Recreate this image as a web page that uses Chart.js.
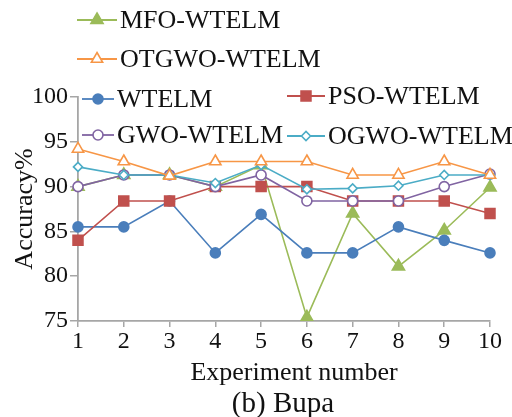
<!DOCTYPE html>
<html>
<head>
<meta charset="utf-8">
<script src="https://cdn.jsdelivr.net/npm/chart.js@4/dist/chart.umd.min.js"></script>
<style>
  html, body { margin:0; padding:0; background:#fff; }
  #wrap { width:512px; height:417px; position:relative; }
</style>
</head>
<body>
<div id="wrap"><canvas id="c" width="512" height="417"></canvas></div>
<script>
// experiment index on the x axis
const experiments = ['1','2','3','4','5','6','7','8','9','10'];
const yTicks = [75, 80, 85, 90, 95, 100];

// accuracy (%) per method
const wtelm = [85.5, 85.5, 88.4, 82.6, 86.9, 82.6, 82.6, 85.5, 84.0, 82.6];
const psoWtelm = [84.0, 88.4, 88.4, 90.0, 90.0, 90.0, 88.4, 88.4, 88.4, 87.0];
const gwoWtelm = [90.0, 91.3, 91.3, 90.0, 91.3, 88.4, 88.4, 88.4, 90.0, 91.4];
const ogwoWtelm = [92.2, 91.3, 91.3, 90.4, 92.4, 89.7, 89.8, 90.1, 91.3, 91.3];
const mfoWtelm = [90.0, 91.3, 91.3, 90.0, 92.4, 75.4, 87.0, 81.1, 85.1, 89.9];
const otgwoWtelm = [94.2, 92.8, 91.2, 92.8, 92.8, 92.8, 91.3, 91.3, 92.8, 91.3];

const xTitle = 'Experiment number';
const caption = '(b) Bupa';
const FONT = "'Liberation Serif', 'Times New Roman', serif";

function series(label, data, color, style, radius, hollow, order) {
  return {
    label, data, order,
    borderColor: color,
    backgroundColor: hollow ? '#fff' : color,
    borderWidth: 1.6,
    pointStyle: style,
    pointRadius: radius,
    pointHoverRadius: radius,
    pointBorderColor: color,
    pointBackgroundColor: hollow ? '#fff' : color,
    pointBorderWidth: 1.6,
    tension: 0,
    fill: false
  };
}

const datasets = [
  series('WTELM', wtelm, '#4a7ebb', 'circle', 5, false, 5),
  series('PSO-WTELM', psoWtelm, '#c0504d', 'rect', 7, false, 4),
  series('GWO-WTELM', gwoWtelm, '#8064a2', 'circle', 5, true, 3),
  series('OGWO-WTELM', ogwoWtelm, '#4bacc6', 'rectRot', 4.5, true, 1),
  series('MFO-WTELM', mfoWtelm, '#9bbb59', 'triangle', 7, false, 6),
  series('OTGWO-WTELM', otgwoWtelm, '#f79646', 'triangle', 6.5, true, 0)
];

// hand-placed legend: two single rows on top, then a 2x2 block over the plot
const legendSlots = [
  { ds: 4, x: 77, y: 20, len: 40 },
  { ds: 5, x: 77, y: 59, len: 40 },
  { ds: 0, x: 82, y: 99, len: 32 },
  { ds: 2, x: 82, y: 135, len: 32 },
  { ds: 1, x: 287, y: 96, len: 38 },
  { ds: 3, x: 287, y: 136, len: 38 }
];

const customLegend = {
  id: 'customLegend',
  afterDraw(chart) {
    const ctx = chart.ctx;
    ctx.save();
    legendSlots.forEach(s => {
      const d = chart.data.datasets[s.ds];
      ctx.strokeStyle = d.borderColor;
      ctx.lineWidth = 1.8;
      ctx.beginPath();
      ctx.moveTo(s.x, s.y);
      ctx.lineTo(s.x + s.len, s.y);
      ctx.stroke();
      ctx.fillStyle = d.pointBackgroundColor;
      ctx.strokeStyle = d.pointBorderColor;
      ctx.lineWidth = d.pointBorderWidth;
      Chart.helpers.drawPoint(ctx, { pointStyle: d.pointStyle, radius: d.pointRadius, rotation: 0, borderWidth: d.pointBorderWidth }, s.x + s.len / 2, s.y);
      ctx.fillStyle = '#111';
      ctx.font = '26px ' + FONT;
      ctx.textBaseline = 'middle';
      ctx.textAlign = 'left';
      ctx.fillText(d.label, s.x + s.len + 3, s.y + 1);
    });
    // x axis title and caption below the plot
    ctx.textAlign = 'center';
    ctx.textBaseline = 'middle';
    ctx.fillStyle = '#111';
    ctx.font = '26px ' + FONT;
    ctx.fillText(xTitle, 294, 373);
    ctx.font = '29px ' + FONT;
    ctx.fillText(caption, 283, 404);
    ctx.restore();
  }
};

new Chart(document.getElementById('c'), {
  type: 'line',
  data: { labels: experiments, datasets },
  plugins: [customLegend],
  options: {
    responsive: false,
    animation: false,
    devicePixelRatio: 1,
    layout: { padding: { top: 97, right: 22, left: 0, bottom: 0 } },
    plugins: {
      legend: { display: false },
      tooltip: { enabled: false }
    },
    scales: {
      x: {
        offset: false,
        afterFit: axis => { axis.height = 96; },
        grid: { drawOnChartArea: false, drawTicks: true, tickLength: 6, color: '#a6a6a6', lineWidth: 1.5 },
        border: { color: '#a6a6a6', width: 1.8 },
        ticks: { color: '#111', font: { family: FONT, size: 24 }, maxRotation: 0, autoSkip: false, padding: 0 }
      },
      y: {
        min: 75,
        max: 100,
        afterBuildTicks: axis => { axis.ticks = yTicks.map(v => ({ value: v })); },
        afterFit: axis => { axis.width = 78; },
        grid: { drawOnChartArea: false, drawTicks: true, tickLength: 8, color: '#a6a6a6', lineWidth: 1.5 },
        border: { color: '#a6a6a6', width: 1.8 },
        ticks: { color: '#111', font: { family: FONT, size: 24 }, padding: 2 },
        title: { display: true, text: 'Accuracy%', color: '#111', font: { family: FONT, size: 26 }, padding: { top: 10, bottom: 0 } }
      }
    }
  }
});
</script>
</body>
</html>
